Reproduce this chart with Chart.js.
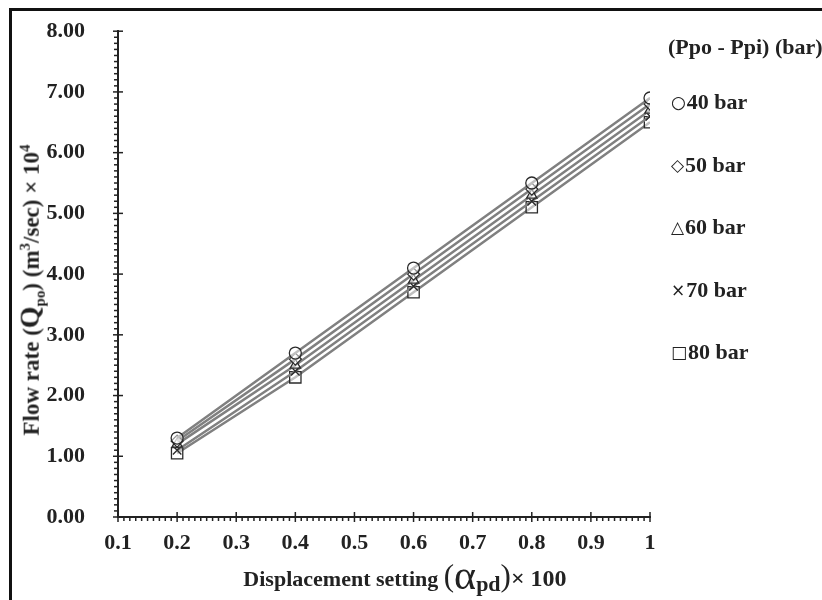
<!DOCTYPE html>
<html>
<head>
<meta charset="utf-8">
<script src="https://cdn.jsdelivr.net/npm/chart.js@4.4.1/dist/chart.umd.min.js"></script>
<style>
  html, body { margin: 0; padding: 0; background: #fff; }
  #wrap { position: relative; width: 822px; height: 600px; overflow: hidden; font-family: "Liberation Serif", "Times New Roman", serif; font-weight: bold; color: #222; }
  #frame { position: absolute; left: 9px; top: 8px; width: 900px; height: 700px; border-left: 3px solid #111; border-top: 3px solid #111; }
  #chart { position: absolute; left: 0; top: -7px; }
  #ytitle { position: absolute; left: 31px; top: 290px; transform: translate(-50%, -50%) rotate(-90deg); white-space: nowrap; font-size: 23px; }
  #ytitle .q { font-size: 28px; }
  #xtitle { position: absolute; left: 405px; top: 575px; transform: translate(-50%, -50%); white-space: nowrap; font-size: 22px; }
  #xtitle .alpha { font-size: 42px; font-weight: normal; vertical-align: -3px; }
  #xtitle .paren { font-size: 31px; font-weight: normal; }
  #xtitle sub { font-size: 22px; vertical-align: -5px; }
  #xtitle .tail { font-size: 24px; }
  sub, sup { font-size: 65%; }
  #legend { position: absolute; left: 668px; top: 0; }
  #legend .title { position: absolute; top: 34px; left: 0; white-space: nowrap; font-size: 22px; line-height: 26px; }
  #legend .item { position: absolute; left: 3px; white-space: nowrap; font-size: 22px; line-height: 26px; }
  #legend .sym { font-family: "DejaVu Sans", sans-serif; font-weight: normal; font-size: 17px; margin-right: 1px; vertical-align: 1px; }
</style>
</head>
<body>
<div id="wrap">
  <div id="frame"></div>
  <canvas id="chart" width="822" height="607"></canvas>
  <div id="ytitle">Flow rate (<span class="q">Q</span><sub>po</sub>) (m<sup>3</sup>/sec) × 10<sup>4</sup></div>
  <div id="xtitle">Displacement setting <span class="paren">(</span><span class="alpha">α</span><sub>pd</sub><span class="paren">)</span><span class="tail">× 100</span></div>
  <div id="legend"></div>
</div>
<script>
// displacement settings on the x axis
const displacement = [0.2, 0.4, 0.6, 0.8, 1.0];
const xTickValues = [0.1, 0.2, 0.3, 0.4, 0.5, 0.6, 0.7, 0.8, 0.9, 1.0];

// pressure difference labels
const pressureLabels = ['40 bar', '50 bar', '60 bar', '70 bar', '80 bar'];
const legendTitle = '(Ppo - Ppi) (bar)';

// flow rate (m3/sec) x 10^4 per pressure difference
const flow40 = [1.30, 2.70, 4.10, 5.50, 6.90];
const flow50 = [1.25, 2.60, 4.00, 5.40, 6.80];
const flow60 = [1.20, 2.50, 3.90, 5.30, 6.70];
const flow70 = [1.10, 2.40, 3.80, 5.20, 6.60];
const flow80 = [1.05, 2.30, 3.70, 5.10, 6.50];

const allFlows = [flow40, flow50, flow60, flow70, flow80];
const markers = ['circle', 'rectRot', 'triangle', 'crossRot', 'rect'];
const markerSize = [6, 6, 6, 6, 8];
const legendSymbols = ['○', '◇', '△', '×', '□'];

const datasets = pressureLabels.map((lbl, i) => ({
    label: lbl,
    data: displacement.map((x, j) => ({ x: x, y: allFlows[i][j] })),
    borderColor: '#808080',
    borderWidth: 2.5,
    pointStyle: markers[i],
    pointRadius: markerSize[i],
    pointBorderColor: '#2a2a2a',
    pointBorderWidth: 1.3,
    pointBackgroundColor: 'rgba(255,255,255,0.5)',
    tension: 0
}));

// minor / major tick marks like the original axes
const tickMarks = {
    id: 'tickMarks',
    afterDraw(chart) {
        const c = chart.ctx;
        const xs = chart.scales.x, ys = chart.scales.y;
        const ax = xs.getPixelForValue(0.1);
        const ay = ys.getPixelForValue(0);
        c.save();
        c.strokeStyle = '#222';
        c.lineWidth = 1.5;
        for (let i = 0; i <= 80; i++) {
            const py = ys.getPixelForValue(i / 10);
            c.beginPath();
            if (i % 10 === 0) { c.moveTo(ax - 5, py); c.lineTo(ax + 5, py); }
            else { c.moveTo(ax - 4, py); c.lineTo(ax, py); }
            c.stroke();
        }
        for (let i = 10; i <= 100; i++) {
            const px = xs.getPixelForValue(i / 100);
            c.beginPath();
            if (i % 10 === 0) { c.moveTo(px, ay - 5); c.lineTo(px, ay + 5); }
            else { c.moveTo(px, ay); c.lineTo(px, ay + 4); }
            c.stroke();
        }
        c.restore();
    }
};

const tickFont = { family: 'Liberation Serif', weight: 'bold', size: 22 };

const chart = new Chart(document.getElementById('chart'), {
    type: 'line',
    data: { datasets: datasets },
    options: {
        responsive: false,
        animation: false,
        layout: { padding: { top: 12, right: 172, left: 0, bottom: 0 } },
        plugins: { legend: { display: false }, tooltip: { enabled: false } },
        scales: {
            x: {
                type: 'linear',
                min: 0.1,
                max: 1,
                afterFit: s => { s.height = 83; },
                afterBuildTicks: s => { s.ticks = xTickValues.map(v => ({ value: v })); },
                ticks: {
                    padding: 5,
                    color: '#222',
                    font: tickFont,
                    callback: v => (Math.abs(v - 1) < 1e-9 ? '1' : v.toFixed(1))
                },
                grid: { display: false },
                border: { display: true, color: '#222', width: 2 }
            },
            y: {
                type: 'linear',
                min: 0,
                max: 8,
                afterFit: s => { s.width = 118; },
                ticks: {
                    stepSize: 1,
                    padding: 25,
                    color: '#222',
                    font: tickFont,
                    callback: v => v.toFixed(2)
                },
                grid: { display: false },
                border: { display: true, color: '#222', width: 2 }
            }
        }
    },
    plugins: [tickMarks]
});

// legend built from the datasets
const lg = document.getElementById('legend');
const t = document.createElement('div');
t.className = 'title';
t.textContent = legendTitle;
lg.appendChild(t);
chart.data.datasets.forEach((ds, i) => {
    const d = document.createElement('div');
    d.className = 'item';
    d.style.top = (89 + i * 62.5) + 'px';
    d.innerHTML = '<span class="sym">' + legendSymbols[i] + '</span>' + ds.label;
    lg.appendChild(d);
});
</script>
</body>
</html>
